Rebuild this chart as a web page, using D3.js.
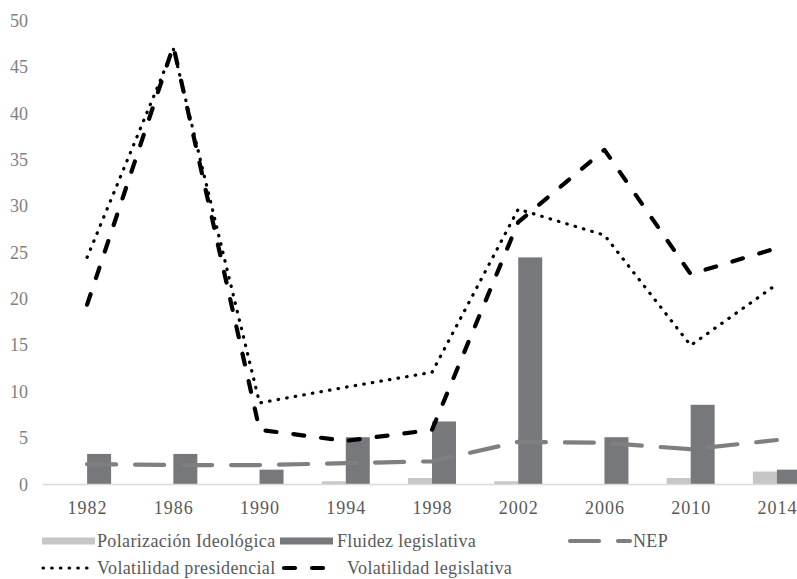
<!DOCTYPE html>
<html>
<head>
<meta charset="utf-8">
<script src="https://cdn.jsdelivr.net/npm/d3@7"></script>
<style>
  html, body { margin: 0; padding: 0; background: #fff; }
  svg { display: block; }
  text { font-family: "Liberation Serif", "DejaVu Serif", serif; }
</style>
</head>
<body>
<svg id="chart" width="797" height="579"></svg>
<script>
// ---- data ----
const years = ["1982","1986","1990","1994","1998","2002","2006","2010","2014"];
const polarizacion = [0, 0, 0, 0.35, 0.7, 0.35, 0, 0.7, 1.4];
const fluidez = [3.3, 3.3, 1.6, 5.1, 6.8, 24.5, 5.1, 8.6, 1.6];
const nep = [2.2, 2.1, 2.1, 2.3, 2.5, 4.6, 4.5, 3.8, 4.8];
const volPresidencial = [24.5, 47.0, 8.8, 10.5, 12.1, 29.7, 26.9, 15.0, 21.6];
const volLegislativa = [19.4, 47.3, 5.9, 4.7, 5.9, 28.3, 36.1, 22.7, 25.5];
const yTicks = [0, 5, 10, 15, 20, 25, 30, 35, 40, 45, 50];
const legendLabels = ["Polarización Ideológica", "Fluidez legislativa", "NEP", "Volatilidad presidencial", "Volatilidad legislativa"];

const svg = d3.select("#chart");

const x = d3.scaleBand().domain(years).range([44, 820]).paddingInner(0).paddingOuter(0);
const sub = d3.scaleBand().domain(["pol", "flu"]).range([x.bandwidth()/2 - 24, x.bandwidth()/2 + 24]);
const y = d3.scaleLinear().domain([0, 50]).range([484.5, 21]);

// y tick labels
svg.append("g").selectAll("text").data(yTicks).join("text")
  .attr("x", 28).attr("y", d => y(d))
  .attr("text-anchor", "end").attr("dominant-baseline", "central")
  .attr("font-size", 18).attr("fill", "#7f7f7f")
  .text(d => d);

// bars
const barColors = { pol: "#c6c6c6", flu: "#77787c" };
const barData = years.flatMap((yr, i) => [
  { yr, key: "pol", v: polarizacion[i] },
  { yr, key: "flu", v: fluidez[i] }
]);
svg.append("g").selectAll("rect").data(barData.filter(d => d.v > 0)).join("rect")
  .attr("x", d => x(d.yr) + sub(d.key))
  .attr("width", sub.bandwidth())
  .attr("y", d => y(d.v))
  .attr("height", d => y(0) - y(d.v))
  .attr("fill", d => barColors[d.key]);

// x axis line
svg.append("line")
  .attr("x1", 43).attr("x2", 820).attr("y1", y(0)).attr("y2", y(0))
  .attr("stroke", "#d9d9d9").attr("stroke-width", 1.5);

// x labels
svg.append("g").selectAll("text").data(years).join("text")
  .attr("x", d => x(d) + x.bandwidth()/2 + 0.5).attr("y", 508)
  .attr("text-anchor", "middle").attr("dominant-baseline", "central")
  .attr("font-size", 18).attr("letter-spacing", 1).attr("fill", "#595959")
  .text(d => d);

const cx = d => x(d) + x.bandwidth()/2;
const line = d3.line().x(d => cx(d.yr)).y(d => y(d.v));
const toPts = arr => years.map((yr, i) => ({ yr, v: arr[i] }));

const styles = {
  nep: { stroke: "#7f7f7f", width: 4.2, dash: "29 19", cap: "round" },
  pres: { stroke: "#000", width: 3.2, dash: "0.5 8.2", cap: "round" },
  leg: { stroke: "#000", width: 4.2, dash: "11 17", cap: "round" }
};

function drawLine(arr, s) {
  svg.append("path").datum(toPts(arr))
    .attr("d", line)
    .attr("fill", "none")
    .attr("stroke", s.stroke).attr("stroke-width", s.width)
    .attr("stroke-dasharray", s.dash).attr("stroke-linecap", s.cap)
    .attr("stroke-linejoin", "round");
}
drawLine(nep, styles.nep);
drawLine(volPresidencial, styles.pres);
drawLine(volLegislativa, styles.leg);

// legend
const lg = svg.append("g");
const legendItems = [
  { type: "rect", color: barColors.pol, x0: 42, x1: 95, tx: 97, ty: 541 },
  { type: "rect", color: barColors.flu, x0: 280, x1: 333, tx: 337, ty: 541 },
  { type: "line", s: styles.nep, x0: 570, x1: 630, tx: 633, ty: 541 },
  { type: "line", s: styles.pres, x0: 43, x1: 93, tx: 97, ty: 568 },
  { type: "line", s: styles.leg, x0: 284, x1: 334, tx: 347, ty: 568 }
];
legendItems.forEach((it, i) => {
  if (it.type === "rect") {
    lg.append("rect").attr("x", it.x0).attr("y", it.ty - 3.5)
      .attr("width", it.x1 - it.x0).attr("height", 7).attr("fill", it.color);
  } else {
    lg.append("line").attr("x1", it.x0).attr("x2", it.x1).attr("y1", it.ty).attr("y2", it.ty)
      .attr("stroke", it.s.stroke).attr("stroke-width", it.s.width)
      .attr("stroke-dasharray", it.s.dash).attr("stroke-linecap", it.s.cap);
  }
  lg.append("text").attr("x", it.tx).attr("y", it.ty)
    .attr("dominant-baseline", "central")
    .attr("font-size", 18).attr("letter-spacing", 0.35).attr("fill", "#595959")
    .text(legendLabels[i]);
});
</script>
</body>
</html>
